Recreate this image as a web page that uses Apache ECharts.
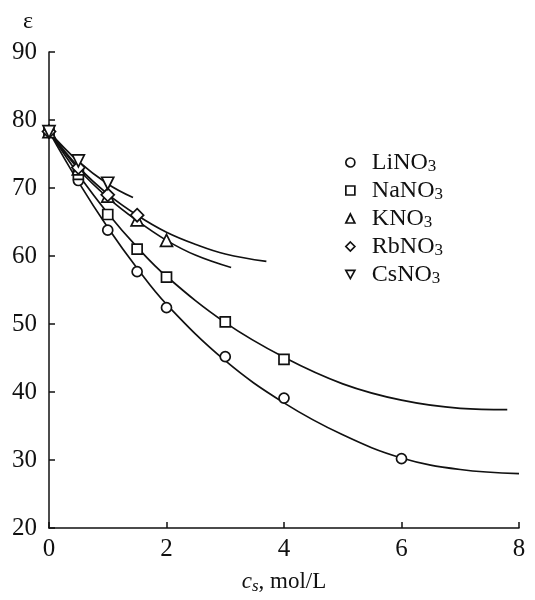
<!DOCTYPE html>
<html>
<head>
<meta charset="utf-8">
<script src="https://cdn.jsdelivr.net/npm/echarts@6/dist/echarts.min.js"></script>
<style>
  html, body { margin: 0; padding: 0; background: #fff; }
  #chart { width: 535px; height: 600px; }
</style>
</head>
<body>
<div id="chart"></div>
<script>
// measured points (c_s, mol/L ; epsilon)
const liPts = [[0, 78.3], [0.5, 71.1], [1, 63.8], [1.5, 57.7], [2, 52.4], [3, 45.2], [4, 39.1], [6, 30.2]];
const naPts = [[0, 78.3], [0.5, 72.0], [1, 66.1], [1.5, 61.0], [2, 56.9], [3, 50.3], [4, 44.8]];
const kPts  = [[0, 78.3], [0.5, 72.8], [1, 68.8], [1.5, 65.3], [2, 62.3]];
const rbPts = [[0, 78.3], [0.5, 73.0], [1, 69.0], [1.5, 66.0]];
const csPts = [[0, 78.3], [0.5, 74.0], [1, 70.7]];

// fitted curves
const liFit = [[0, 78.3], [0.5, 70.9], [1, 64.2], [1.5, 58.2], [2, 52.9], [3, 44.6], [4, 38.4], [5, 33.7], [6, 30.3], [7, 28.6], [8, 28.0]];
const naFit = [[0, 78.3], [0.5, 72.0], [1, 66.3], [1.5, 61.3], [2, 57.0], [3, 50.2], [4, 45.1], [5, 41.2], [6, 38.8], [7, 37.6], [7.8, 37.4]];
const kFit  = [[0, 78.3], [0.5, 72.8], [1, 68.6], [1.5, 65.2], [2, 62.3], [2.5, 60.1], [3.1, 58.3]];
const rbFit = [[0, 78.3], [0.5, 73.1], [1, 69.1], [1.5, 66.0], [2, 63.5], [2.5, 61.7], [3, 60.3], [3.7, 59.2]];
const csFit = [[0, 78.3], [0.5, 73.9], [1, 70.6], [1.43, 68.6]];

const saltNames = ['LiNO3', 'NaNO3', 'KNO3', 'RbNO3', 'CsNO3'];
const downTri = 'path://M0,0 L10,0 L5,9 Z';
const symbols = ['circle', 'rect', 'triangle', 'diamond', downTri];
const pointSets = [liPts, naPts, kPts, rbPts, csPts];
const fitSets = [liFit, naFit, kFit, rbFit, csFit];
const symSizes = [10, 10, 12, 13, 12];

const xTicks = [0, 2, 4, 6, 8];
const yTicks = [20, 30, 40, 50, 60, 70, 80, 90];

const serif = 'Liberation Serif';
const black = '#111';

const chart = echarts.init(document.getElementById('chart'));

const series = [];
fitSets.forEach((d, i) => {
    series.push({
        name: saltNames[i] + '_fit',
        type: 'line',
        data: d,
        smooth: 0.4,
        showSymbol: false,
        silent: true,
        lineStyle: { color: black, width: 1.7 },
        z: 2
    });
});
pointSets.forEach((d, i) => {
    series.push({
        name: saltNames[i],
        type: 'scatter',
        data: d,
        symbol: symbols[i],
        symbolSize: symSizes[i],
        itemStyle: { color: '#fff', opacity: 1, borderColor: black, borderWidth: 1.7 },
        z: 3
    });
});

chart.setOption({
    animation: false,
    backgroundColor: '#fff',
    grid: { left: 49, right: 16, top: 52, bottom: 68 },
    legend: {
        data: saltNames.map((n, i) => ({ name: n, icon: symbols[i] })),
        orient: 'vertical',
        left: 340,
        top: 145,
        itemWidth: 9,
        itemHeight: 9,
        itemGap: 3,
        itemStyle: { color: '#fff', borderColor: black, borderWidth: 1.7 },
        formatter: n => '{a|' + n.slice(0, -1) + '}{s|3}',
        textStyle: {
            rich: {
                a: { fontFamily: serif, fontSize: 24, lineHeight: 24, color: black, padding: [0, 0, 0, 12] },
                s: { fontFamily: serif, fontSize: 17, lineHeight: 16, color: black, padding: [8, 0, 0, 0] }
            }
        }
    },
    xAxis: {
        type: 'value',
        min: 0,
        max: 8,
        interval: 2,
        name: '{i|c}{sub|s}{n|, mol/L}',
        nameLocation: 'middle',
        nameGap: 41,
        nameTextStyle: {
            rich: {
                i: { fontFamily: serif, fontSize: 23, fontStyle: 'italic', color: black },
                sub: { fontFamily: serif, fontSize: 17, fontStyle: 'italic', color: black, padding: [9, 0, 0, 0] },
                n: { fontFamily: serif, fontSize: 23, color: black }
            }
        },
        axisLine: { lineStyle: { color: black, width: 1.5 } },
        axisTick: { inside: true, length: 6, lineStyle: { color: black, width: 1.5 } },
        axisLabel: { fontFamily: serif, fontSize: 25, color: black, margin: 9,
            formatter: v => xTicks.includes(v) ? String(v) : '' },
        splitLine: { show: false }
    },
    yAxis: {
        type: 'value',
        min: 20,
        max: 90,
        interval: 10,
        name: 'ε',
        nameLocation: 'end',
        nameGap: 18,
        nameTextStyle: { fontFamily: serif, fontSize: 24, color: black, align: 'right', padding: [0, 16, 0, 0] },
        axisLine: { show: true, lineStyle: { color: black, width: 1.5 } },
        axisTick: { inside: true, length: 6, lineStyle: { color: black, width: 1.5 } },
        axisLabel: { fontFamily: serif, fontSize: 25, color: black, margin: 12,
            formatter: v => yTicks.includes(v) ? String(v) : '' },
        splitLine: { show: false }
    },
    series: series
});
</script>
</body>
</html>
